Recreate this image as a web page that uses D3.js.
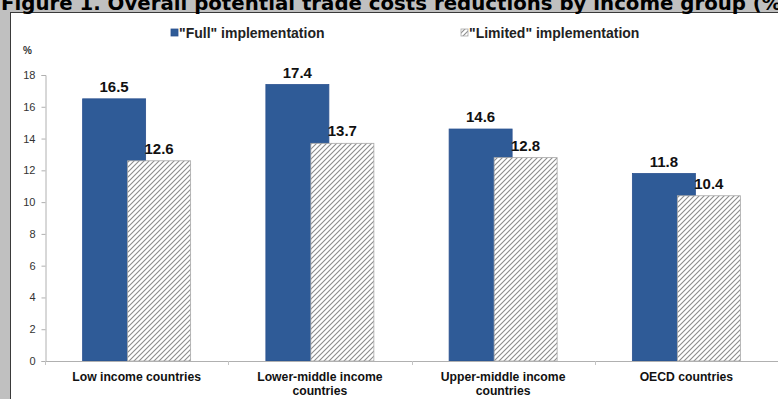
<!DOCTYPE html>
<html>
<head>
<meta charset="utf-8">
<script src="https://cdn.jsdelivr.net/npm/d3@7"></script>
<style>
  html, body { margin: 0; padding: 0; background: #c0c0c0; }
  svg { display: block; }
</style>
</head>
<body>
<svg id="chart" width="778" height="399"></svg>
<script>
// Categories, series and values
const categories = [
  ["Low income countries"],
  ["Lower-middle income", "countries"],
  ["Upper-middle income", "countries"],
  ["OECD countries"]
];
const seriesNames = ["\"Full\" implementation", "\"Limited\" implementation"];
const fullValues = [16.5, 17.4, 14.6, 11.8];
const limitedValues = [12.6, 13.7, 12.8, 10.4];
const yTicks = [0, 2, 4, 6, 8, 10, 12, 14, 16, 18];
const titleText = "Figure 1. Overall potential trade costs reductions by income group (%)";

const W = 778, H = 399;
const svg = d3.select("#chart");

// Background and white panel
svg.append("rect").attr("width", W).attr("height", H).attr("fill", "#c0c0c0");
svg.append("rect").attr("x", 10.5).attr("y", 12.5).attr("width", W).attr("height", H)
  .attr("fill", "#ffffff").attr("stroke", "#3a3a3a").attr("stroke-width", 1);

// Title (runs past the right edge of the figure)
const title = svg.append("text").attr("x", 1).attr("y", 9.5)
  .attr("font-family", "DejaVu Sans, Verdana, sans-serif")
  .attr("font-weight", "bold").attr("font-size", 16)
  .attr("fill", "#000").text(titleText);
const tl = title.node().getComputedTextLength();
title.attr("font-size", 16 * 790 / tl);

// Hatch pattern for the limited series
const defs = svg.append("defs");
const pat = defs.append("pattern").attr("id", "hatch")
  .attr("patternUnits", "userSpaceOnUse").attr("width", 5).attr("height", 5);
pat.append("rect").attr("width", 5).attr("height", 5).attr("fill", "#ffffff");
pat.append("path").attr("d", "M-1.25,1.25 L1.25,-1.25 M0,5 L5,0 M3.75,6.25 L6.25,3.75")
  .attr("stroke", "#8c8c8c").attr("stroke-width", 1.1);

// Scales
const x0 = 45, x1 = 778, yBase = 361, yTop = 75;
const x = d3.scaleBand().domain(d3.range(categories.length)).range([x0, x1]).padding(0);
const y = d3.scaleLinear().domain([0, 18]).range([yBase, yTop]);
const barW = 63;
const sub = d3.scalePoint().domain([0, 1]).range([-22.5, 22.5]);

const series = [
  { name: seriesNames[0], values: fullValues, fill: "#2f5b97", stroke: "#2a5190" },
  { name: seriesNames[1], values: limitedValues, fill: "url(#hatch)", stroke: "#a8a8a8" }
];

// Y axis
const yAxis = d3.axisLeft(y).tickValues(yTicks).tickSize(4).tickPadding(6);
const gy = svg.append("g").attr("transform", `translate(${x0 + 0.5},0)`).call(yAxis);
gy.select(".domain").attr("stroke", "#b0b0b0");
gy.selectAll(".tick line").attr("stroke", "#b0b0b0");
gy.selectAll(".tick text").attr("font-family", "Liberation Sans, Arial, sans-serif")
  .attr("font-size", 11).attr("fill", "#333");

svg.append("text").attr("x", 23).attr("y", 54)
  .attr("font-family", "Liberation Sans, Arial, sans-serif")
  .attr("font-size", 10).attr("font-weight", "bold").attr("fill", "#333").text("%");

// Bars (limited drawn after full so it overlaps)
series.forEach((s, si) => {
  svg.append("g").selectAll("rect").data(s.values).enter().append("rect")
    .attr("x", (d, i) => x(i) + x.bandwidth() / 2 + sub(si) - barW / 2)
    .attr("y", d => y(d))
    .attr("width", barW)
    .attr("height", d => yBase - y(d))
    .attr("fill", s.fill)
    .attr("stroke", s.stroke).attr("stroke-width", 0.8);
});

// Value labels
series.forEach((s, si) => {
  svg.append("g").selectAll("text").data(s.values).enter().append("text")
    .attr("x", (d, i) => x(i) + x.bandwidth() / 2 + sub(si))
    .attr("y", d => y(d) - 7)
    .attr("text-anchor", "middle")
    .attr("font-family", "Liberation Sans, Arial, sans-serif")
    .attr("font-weight", "bold").attr("font-size", 15).attr("fill", "#111")
    .text(d => d.toFixed(1));
});

// X axis line and category boundary ticks
svg.append("line").attr("x1", x0).attr("x2", x1).attr("y1", yBase + 0.5).attr("y2", yBase + 0.5)
  .attr("stroke", "#b0b0b0");
svg.append("g").selectAll("line").data(d3.range(categories.length + 1)).enter().append("line")
  .attr("x1", i => Math.round(x0 + i * x.bandwidth()) + 0.5)
  .attr("x2", i => Math.round(x0 + i * x.bandwidth()) + 0.5)
  .attr("y1", yBase).attr("y2", yBase + 4).attr("stroke", "#c4c4c4");

// Category labels
const cat = svg.append("g").selectAll("text").data(categories).enter().append("text")
  .attr("x", (d, i) => x(i) + x.bandwidth() / 2)
  .attr("y", 381)
  .attr("text-anchor", "middle")
  .attr("font-family", "Liberation Sans, Arial, sans-serif")
  .attr("font-weight", "bold").attr("font-size", 12.2).attr("fill", "#111");
cat.each(function (d) {
  const t = d3.select(this);
  d.forEach((line, k) => {
    t.append("tspan").attr("x", t.attr("x")).attr("dy", k === 0 ? 0 : 14).text(line);
  });
});

// Legend
const legendX = [171, 461];
series.forEach((s, si) => {
  const g = svg.append("g").attr("transform", `translate(${legendX[si]},33)`);
  g.append("rect").attr("x", 0).attr("y", -4).attr("width", 7).attr("height", 7)
    .attr("fill", s.fill).attr("stroke", s.stroke).attr("stroke-width", 0.8);
  g.append("text").attr("x", 8).attr("y", 4.5)
    .attr("font-family", "Liberation Sans, Arial, sans-serif")
    .attr("font-weight", "bold").attr("font-size", 14).attr("fill", "#222")
    .text(s.name);
});
</script>
</body>
</html>
